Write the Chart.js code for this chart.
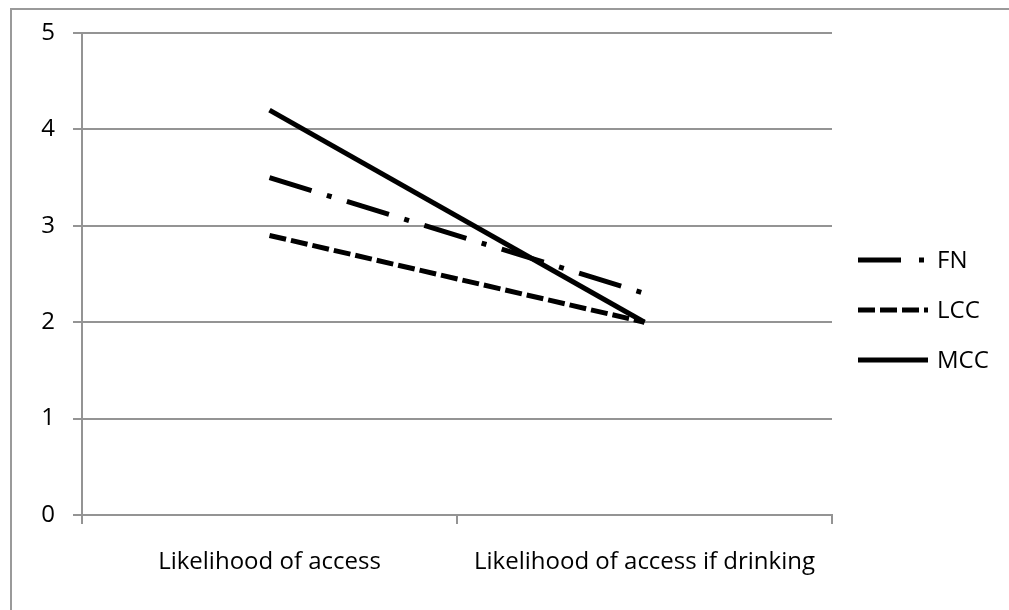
<!DOCTYPE html>
<html>
<head>
<meta charset="utf-8">
<script src="https://cdn.jsdelivr.net/npm/chart.js@4/dist/chart.umd.min.js"></script>
<style>
  html, body { margin: 0; padding: 0; background: #fff; }
  #wrap { position: relative; width: 1009px; height: 610px; }
</style>
</head>
<body>
<div id="wrap"><canvas id="c" width="1009" height="610"></canvas></div>
<script>
// Categories and series
const categories = ['Likelihood of access', 'Likelihood of access if drinking'];
const fnValues  = [3.5, 2.3];
const lccValues = [2.9, 2.0];
const mccValues = [4.2, 2.0];
const yTicks = [0, 1, 2, 3, 4, 5];

const FONT = "'Open Sans', 'Liberation Sans', sans-serif";
const FONT_SIZE = 24;
const GRID = '#949494';

// Outer frame (left and top edges) plus a hand-drawn legend to the right
const framePlugin = {
  id: 'frame',
  beforeDraw(chart) {
    const ctx = chart.ctx;
    ctx.save();
    ctx.strokeStyle = '#9a9a9a';
    ctx.lineWidth = 2;
    ctx.beginPath();
    ctx.moveTo(11, 610);
    ctx.lineTo(11, 9);
    ctx.lineTo(1009, 9);
    ctx.stroke();
    ctx.restore();
  },
  afterDraw(chart) {
    const ctx = chart.ctx;
    const x0 = 858, x1 = 928, tx = 937;
    const ys = [260, 310, 360];
    ctx.save();
    chart.data.datasets.forEach((ds, i) => {
      ctx.strokeStyle = '#000';
      ctx.lineWidth = 5;
      ctx.lineCap = 'butt';
      ctx.setLineDash(ds.legendDash || []);
      ctx.beginPath();
      ctx.moveTo(x0, ys[i]);
      ctx.lineTo(x1, ys[i]);
      ctx.stroke();
      ctx.setLineDash([]);
      ctx.fillStyle = '#000';
      ctx.font = FONT_SIZE + 'px ' + FONT;
      ctx.textBaseline = 'middle';
      ctx.textAlign = 'left';
      ctx.fillText(ds.label, tx, ys[i] + 1);
    });
    ctx.restore();
  }
};

new Chart(document.getElementById('c'), {
  type: 'line',
  data: {
    labels: categories,
    datasets: [
      { label: 'FN',  data: fnValues,  borderColor: '#000', borderWidth: 5,
        borderDash: [44, 16, 5, 16], legendDash: [43, 18, 5, 20], pointRadius: 0, order: 2 },
      { label: 'LCC', data: lccValues, borderColor: '#000', borderWidth: 5,
        borderDash: [17, 5], legendDash: [17, 5], pointRadius: 0, order: 1 },
      { label: 'MCC', data: mccValues, borderColor: '#000', borderWidth: 5,
        pointRadius: 0, order: 0 }
    ]
  },
  options: {
    responsive: false,
    animation: false,
    layout: { padding: { left: 0, right: 177, top: 33, bottom: 0 } },
    plugins: { legend: { display: false }, tooltip: { enabled: false } },
    scales: {
      x: {
        offset: true,
        grid: { offset: true, drawOnChartArea: false, drawTicks: true, tickLength: 9,
                color: GRID, lineWidth: 2 },
        border: { color: GRID, width: 2 },
        ticks: { color: '#000', font: { family: FONT, size: FONT_SIZE }, padding: 24, maxRotation: 0 },
        afterFit(s) { s.height = 95; }
      },
      y: {
        min: 0, max: 5,
        afterBuildTicks(s) { s.ticks = yTicks.map(v => ({ value: v })); },
        grid: { color: GRID, lineWidth: 2, tickLength: 9 },
        border: { color: GRID, width: 2 },
        ticks: { color: '#000', font: { family: FONT, size: FONT_SIZE }, padding: 18 },
        afterFit(s) { s.width = 82; }
      }
    }
  },
  plugins: [framePlugin]
});
</script>
</body>
</html>
